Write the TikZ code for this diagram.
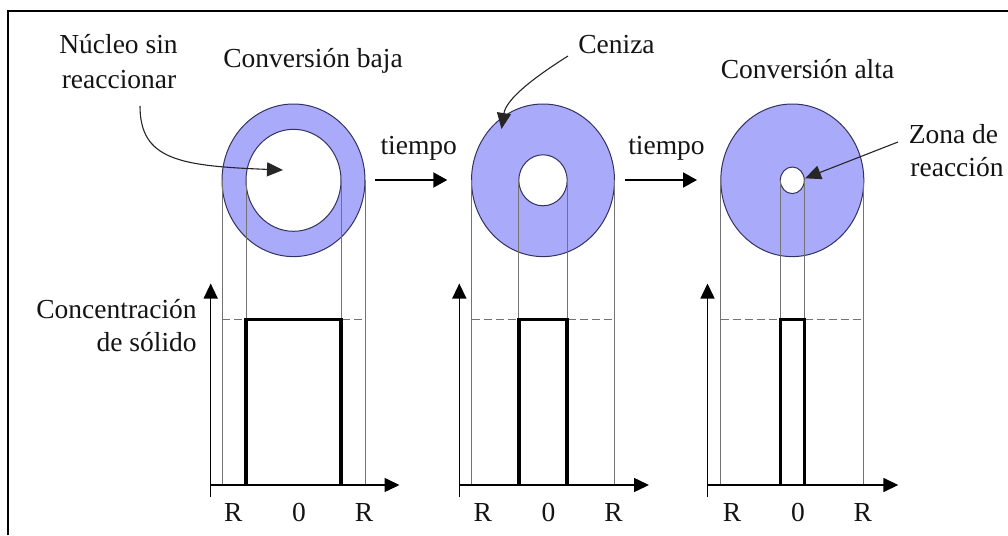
\documentclass[tikz,border=0pt]{standalone}
\usepackage{fontspec}
\setmainfont{Liberation Serif}
\usetikzlibrary{arrows.meta,shapes.geometric}
\definecolor{ringfill}{RGB}{170,170,250}
\definecolor{ringline}{RGB}{50,50,95}
\definecolor{txtc}{RGB}{20,20,20}
\begin{document}
\begin{tikzpicture}[x=1pt,y=-1pt,
  txt/.style={font=\fontsize{27.5}{34}\selectfont, text=txtc, inner sep=0pt, outer sep=0pt},
  ring/.style={ellipse, draw=ringline, line width=1pt, fill=ringfill, inner sep=0pt, outer sep=0pt},
  hole/.style={ellipse, draw=ringline, line width=1pt, fill=white, inner sep=0pt, outer sep=0pt},
  guide/.style={draw=black!55, line width=0.7pt},
  axisline/.style={line width=1.5pt, -{Triangle[length=15pt,width=14pt]}},
  profile/.style={line width=3.5pt, line join=miter},
  level/.style={draw=black!55, dash pattern=on 8pt off 4pt, line width=1.4pt},
  pointer/.style={draw=black!85, line width=1.1pt, -{Triangle[length=16pt,width=14pt]}},
  timearrow/.style={line width=2pt, -{Triangle[length=14pt,width=15pt]}},
]
\useasboundingbox (0,0) rectangle (1008,535);
\fill[white] (0,0) rectangle (1008,535);
\draw[line width=2pt] (8,535) -- (8,11) -- (1008,11);

\foreach \i/\cx/\rx/\ry/\ax in {1/293.5/47.5/51/210.7, 2/543/24.2/25.5/459.3, 3/792.3/12/13.3/707.5}{
  % ring and hole
  \node[ring, minimum width=143pt, minimum height=152.6pt] (o\i) at (\cx,180.3) {};
  \node[hole, minimum width=2*\rx pt, minimum height=2*\ry pt] (h\i) at (\cx,180.3) {};
  % guide lines
  \coordinate (xa\i) at (\cx,485);
  \draw[guide] (o\i.west) -- (o\i.west |- xa\i);
  \draw[guide] (o\i.east) -- (o\i.east |- xa\i);
  \draw[guide] (h\i.west) -- (h\i.west |- xa\i);
  \draw[guide] (h\i.east) -- (h\i.east |- xa\i);
  % level
  \draw[level] (\cx-71.5,319.5) -- (\cx+71.5,319.5);
  % profile
  \draw[profile] (\cx-\rx,485) -- (\cx-\rx,319.5) -- (\cx+\rx,319.5) -- (\cx+\rx,485);
  % axes
  \draw[axisline] (\ax,497) -- (\ax,283.5);
  \draw[axisline] (\ax,485) -- (\cx+106,485);
  % labels
  \node[txt, anchor=base] (rl\i) at (\cx-60.3,521.5) {R};
  \node[txt, anchor=base] (z\i) at (\cx+5.6,521.5) {0};
  \node[txt, anchor=base] (rr\i) at (\cx+70.6,521.5) {R};
}

% texts
\node[txt, anchor=base] (nuc1) at (118.5,53) {Núcleo sin};
\node[txt, anchor=base] (nuc2) at (119,88) {reaccionar};
\node[txt, anchor=base] (cbaja) at (313,67) {Conversión baja};
\node[txt, anchor=base] (ceniza) at (616.5,53) {Ceniza};
\node[txt, anchor=base] (calta) at (807.5,78) {Conversión alta};
\node[txt, anchor=base] (zona1) at (953.5,143) {Zona de};
\node[txt, anchor=base] (zona2) at (957,176.7) {reacción};
\node[txt, anchor=base] (t1) at (418.7,154) {tiempo};
\node[txt, anchor=base] (t2) at (666.5,154) {tiempo};
\node[txt, anchor=base east] (conc1) at (196.7,318) {Concentración};
\node[txt, anchor=base east] (conc2) at (196.7,351.7) {de sólido};

% pointers
\coordinate (nucs) at (140,106);
\coordinate (nuce) at (283,170);
\draw[pointer] (nucs) .. controls (140,160) and (180,166) .. (nuce);
\coordinate (cens) at (568,56);
\coordinate (cene) at (501.5,129);
\draw[pointer] (cens) .. controls (530,80) and (506,100) .. (cene);
\coordinate (zons) at (898,142);
\coordinate (zone) at (805,178.3);
\draw[pointer] (zons) -- (zone);

% time arrows
\coordinate (ta1) at (375,180);
\coordinate (tb1) at (447.3,180);
\draw[timearrow] (ta1) -- (tb1);
\coordinate (ta2) at (625,180);
\coordinate (tb2) at (697,180);
\draw[timearrow] (ta2) -- (tb2);
\end{tikzpicture}
\end{document}
